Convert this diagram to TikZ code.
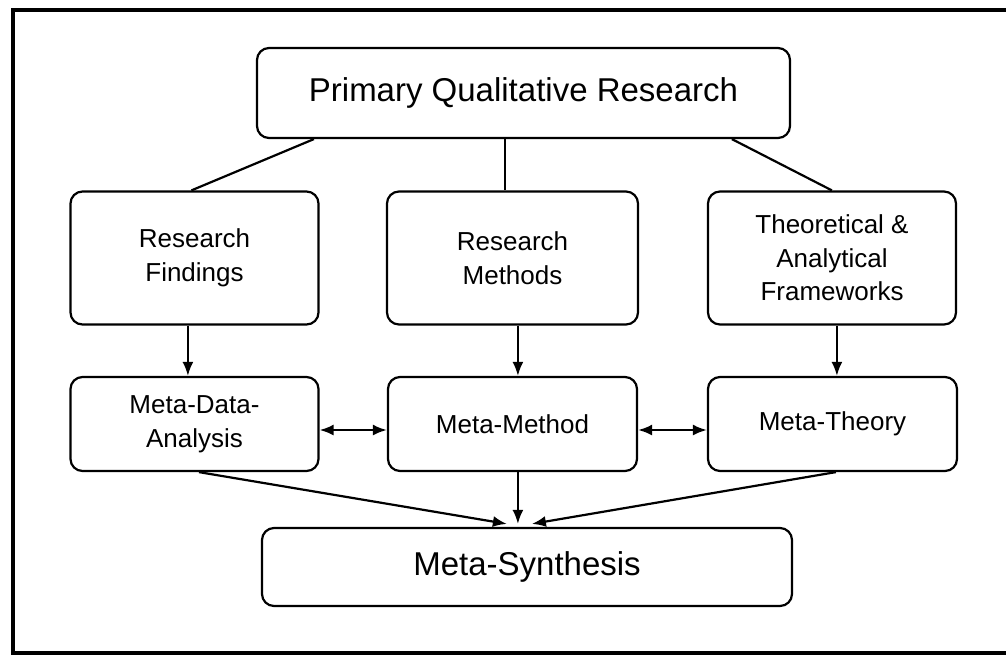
\documentclass[tikz,border=0pt]{standalone}
\usepackage{fontspec}
\setmainfont{Liberation Sans}
\usetikzlibrary{arrows.meta}
\begin{document}
\begin{tikzpicture}[x=1pt,y=-1pt,
  box/.style={draw, line width=2.2pt, rounded corners=12pt, align=center, inner sep=0pt},
  bigbox/.style={box, font=\fontsize{33}{38}\selectfont},
  smallbox/.style={box, font=\fontsize{26}{33.5}\selectfont},
  link/.style={line width=2.2pt},
  arr/.style={line width=2.2pt, -{Latex[length=14pt,width=11pt]}},
  dbl/.style={line width=2.2pt, {Latex[length=14pt,width=11pt]}-{Latex[length=14pt,width=11pt]}}]
\useasboundingbox (0,0) rectangle (1006,657);
\clip (0,0) rectangle (1006,657);
\draw[line width=3.5pt] (13,10) rectangle (1020,653);
% nodes
\node[bigbox, minimum width=533pt, minimum height=90pt] (top) at (523.5,93) {Primary Qualitative Research};
\node[smallbox, minimum width=248pt, minimum height=133pt] (find) at (194.5,258) {Research\\Findings};
\node[smallbox, minimum width=251pt, minimum height=133pt] (meth) at (512.5,258) {Research\\Methods};
\node[smallbox, minimum width=248pt, minimum height=133pt] (theo) at (832,258) {Theoretical \&\\Analytical\\Frameworks};
\node[smallbox, minimum width=248pt, minimum height=94pt] (mda) at (194.5,424) {Meta-Data-\\Analysis};
\node[smallbox, minimum width=249pt, minimum height=94pt] (mm) at (512.5,424) {Meta-Method};
\node[smallbox, minimum width=249pt, minimum height=94pt] (mt) at (832.5,424) {Meta-Theory};
\node[bigbox, minimum width=530pt, minimum height=78pt] (syn) at (527,567) {Meta-Synthesis};
% connectors
\draw[link] ([xshift=58pt]top.south west) -- ([xshift=122pt]find.north west);
\draw[link] ([xshift=249pt]top.south west) -- ([xshift=119pt]meth.north west);
\draw[link] ([xshift=476pt]top.south west) -- ([xshift=125pt]theo.north west);
\draw[arr] ([xshift=118.5pt]find.south west) -- ([xshift=118.5pt]mda.north west);
\draw[arr] ([xshift=132pt]meth.south west) -- ([xshift=131pt]mm.north west);
\draw[arr] ([xshift=130pt]theo.south west) -- ([xshift=130pt]mt.north west);
\draw[dbl] ([yshift=-6pt]mda.east) -- ([yshift=-6pt]mm.west);
\draw[dbl] ([yshift=-6pt]mm.east) -- ([yshift=-6pt]mt.west);
\draw[arr] ([xshift=129.5pt]mda.south west) -- ([xshift=246pt,yshift=3pt]syn.north west);
\draw[arr] ([xshift=131pt]mm.south west) -- ([xshift=257pt,yshift=3pt]syn.north west);
\draw[arr] ([xshift=129pt]mt.south west) -- ([xshift=271pt,yshift=3pt]syn.north west);
\end{tikzpicture}
\end{document}
